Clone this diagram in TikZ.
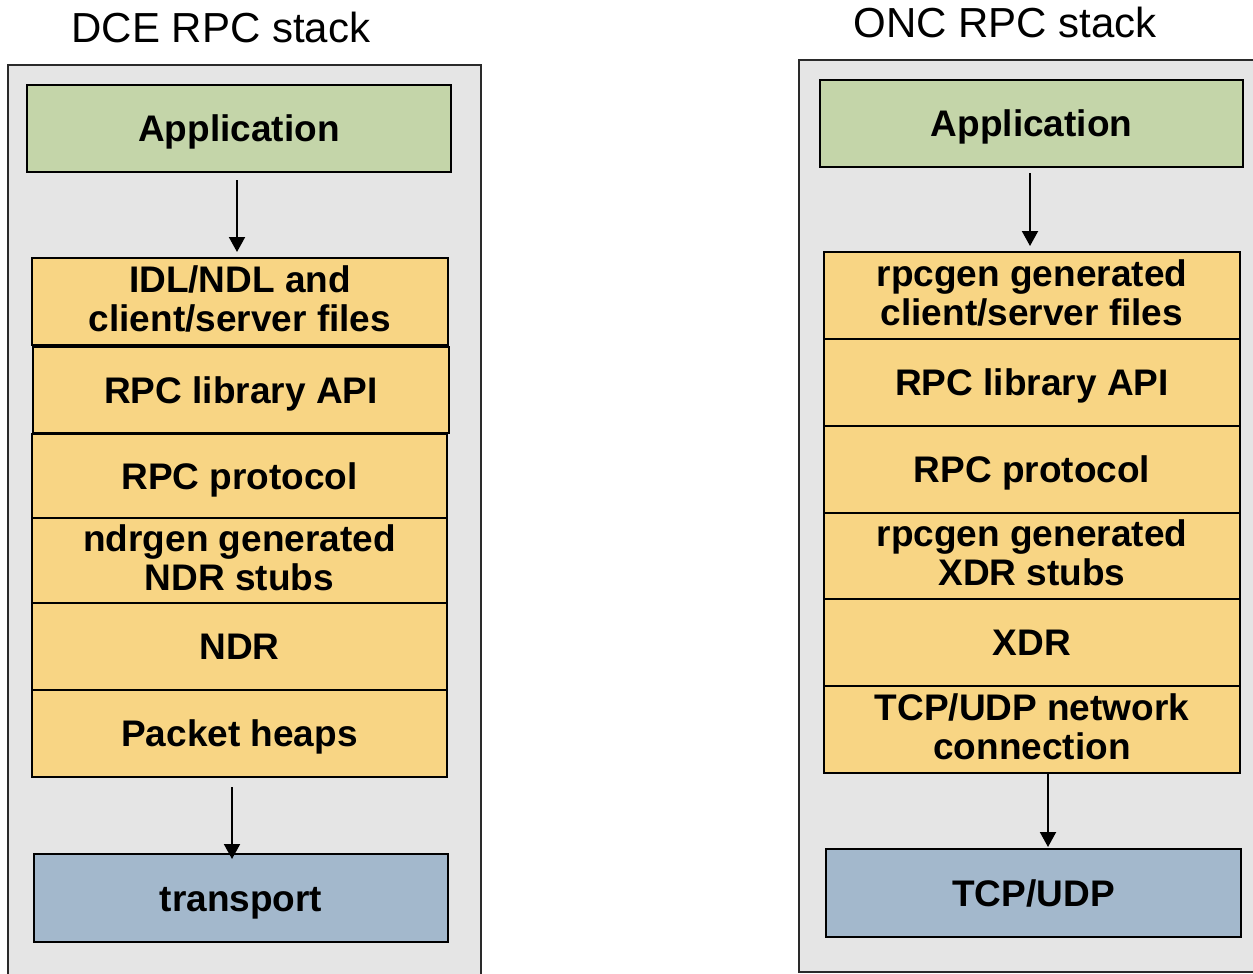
\documentclass[tikz,border=0pt]{standalone}
\usepackage{fontspec}
\setmainfont{Liberation Sans}
\usetikzlibrary{arrows.meta}

\definecolor{panelgray}{HTML}{E5E5E5}
\definecolor{panelline}{HTML}{2A2A2A}
\definecolor{appgreen}{HTML}{C4D5A9}
\definecolor{layerorange}{HTML}{F8D584}
\definecolor{netblue}{HTML}{A3B8CC}

\begin{document}
\begin{tikzpicture}[x=1pt,y=-1pt,
  panel/.style={fill=panelgray, draw=panelline, line width=1.5pt},
  title/.style={anchor=base, inner sep=0pt, font=\fontsize{42}{44}\selectfont},
  layerfont/.style={font=\bfseries\fontsize{37}{39}\selectfont},
  layer/.style={draw=black, line width=2pt, inner sep=0pt, align=center, layerfont},
  oneline/.style={text height=26.5pt, text depth=0pt},
  twoline/.style={layerfont, align=center, inner sep=0pt, yshift=3pt},
  app/.style={layer, oneline, fill=appgreen},
  mid/.style={layer, fill=layerorange},
  net/.style={layer, oneline, fill=netblue},
  flow/.style={draw=black, line width=2pt, -{Triangle[length=15pt,width=16pt]}}]

\useasboundingbox (0,0) rectangle (1253,974);
\clip (0,0) rectangle (1253,974);

% ---------- DCE RPC ----------
\draw[panel] (8,65) rectangle (481,995);
\node[title] (dcetitle) at (221,43) {DCE RPC stack};

\node[app, minimum width=424pt, minimum height=87pt] (lapp) at (239,128.5) {Application};
\node[mid, minimum width=416pt, minimum height=87pt,
  label={[twoline]center:{IDL/NDL and\\client/server files}}] (lidl) at (240,301.5) {};
\node[mid, oneline, minimum width=416pt, minimum height=86pt] (llib) at (241,390) {RPC library API};
\node[mid, oneline, minimum width=415pt, minimum height=85pt] (lproto) at (239.5,476) {RPC protocol};
\node[mid, minimum width=415pt, minimum height=85pt,
  label={[twoline]center:{ndrgen generated\\NDR stubs}}] (lstubs) at (239.5,560.5) {};
\node[mid, oneline, minimum width=415pt, minimum height=87pt] (lndr) at (239.5,646.5) {NDR};
\node[mid, oneline, minimum width=415pt, minimum height=87pt] (lheaps) at (239.5,733.5) {Packet heaps};
\node[net, minimum width=414pt, minimum height=88pt] (ltrans) at (241,898) {transport};

\draw[flow] ([xshift=-2pt,yshift=-7pt]lapp.south) -- ([xshift=-3pt,yshift=5pt]lidl.north);
\draw[flow] ([xshift=-7.5pt,yshift=-9pt]lheaps.south) -- ([xshift=-9pt,yshift=-6pt]ltrans.north);

% ---------- ONC RPC ----------
\draw[panel] (799,60) rectangle (1275,972);
\node[title] (onctitle) at (1005,38) {ONC RPC stack};

\node[app, minimum width=423pt, minimum height=87pt] (rapp) at (1031.5,123.5) {Application};
\node[mid, minimum width=416pt, minimum height=87pt,
  label={[twoline]center:{rpcgen generated\\client/server files}}] (rgen) at (1032,295.5) {};
\node[mid, oneline, minimum width=416pt, minimum height=87pt] (rlib) at (1032,382.5) {RPC library API};
\node[mid, oneline, minimum width=416pt, minimum height=87pt] (rproto) at (1032,469.5) {RPC protocol};
\node[mid, minimum width=416pt, minimum height=86pt,
  label={[twoline]center:{rpcgen generated\\XDR stubs}}] (rstubs) at (1032,556) {};
\node[mid, oneline, minimum width=416pt, minimum height=87pt] (rxdr) at (1032,642.5) {XDR};
\node[mid, minimum width=416pt, minimum height=87pt,
  label={[twoline]center:{TCP/UDP network\\connection}}] (rconn) at (1032,729.5) {};
\node[net, minimum width=415pt, minimum height=88pt] (rtcp) at (1033.5,893) {TCP/UDP};

\draw[flow] ([xshift=-1.5pt,yshift=-5pt]rapp.south) -- ([xshift=-2pt,yshift=5pt]rgen.north);
\draw[flow] ([xshift=16pt]rconn.south) -- ([xshift=14.5pt,yshift=1pt]rtcp.north);

\end{tikzpicture}
\end{document}
